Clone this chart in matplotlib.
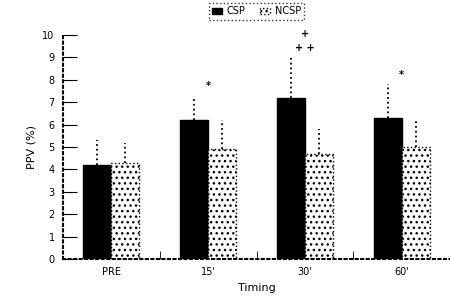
import numpy as np
import matplotlib.pyplot as plt

# values
timing = ["PRE", "15'", "30'", "60'"]
grp_a = [4.2, 6.2, 7.2, 6.3]
grp_a_err = [1.1, 1.1, 1.8, 1.5]
grp_b = [4.3, 4.9, 4.7, 5.0]
grp_b_err = [0.9, 1.3, 1.1, 1.2]
marks_a = ["", "*", "+\n\n+ +", "*"]

fig, ax = plt.subplots(figsize=(4.5, 3.05), dpi=100)
fig.subplots_adjust(left=0.14, right=1.0, bottom=0.151, top=0.885)

x = np.arange(len(timing))
w = 0.29
ax.bar(x - w / 2, grp_a, w, color='black', edgecolor='black', label='CSP')
ax.bar(x + w / 2, grp_b, w, color='white', edgecolor='black', hatch='...', linestyle=':',
       label='NCSP')

# upper-only dotted error bars
for xs, ys, es in [(x - w / 2, grp_a, grp_a_err), (x + w / 2, grp_b, grp_b_err)]:
    eb = ax.errorbar(xs, ys, yerr=[np.zeros(4), es], fmt='none', ecolor='black',
                     elinewidth=1.3, capsize=0)
    eb[2][0].set_linestyle(':')

for i, m in enumerate(marks_a):
    if m:
        ax.text(x[i], grp_a[i] + grp_a_err[i] + 0.2, m, ha='center', va='bottom', fontsize=7,
                fontweight='bold', linespacing=0.6)

ax.set_xlim(-0.5, 3.5)
ax.set_ylim(0, 10)
ax.set_yticks(range(0, 11))
ax.set_xticks(x)
ax.set_xticklabels(timing, fontsize=7)
ax.set_xticks([0.5, 1.5, 2.5], minor=True)
ax.tick_params(axis='x', which='major', length=0, pad=6)
ax.tick_params(axis='x', which='minor', length=6, direction='in')
ax.tick_params(axis='y', direction='in', length=10, labelsize=7, pad=6)
for s in ['top', 'right']:
    ax.spines[s].set_visible(False)
for s in ['left', 'bottom']:
    ax.spines[s].set_linestyle(':')
    ax.spines[s].set_linewidth(1.5)
ax.set_xlabel('Timing', fontsize=8)
ax.set_ylabel('PPV (%)', fontsize=8)

leg = ax.legend(loc='upper center', bbox_to_anchor=(0.5, 1.165), ncol=2, fontsize=7,
                frameon=True, fancybox=False, handlelength=1.0, columnspacing=1.5,
                borderpad=0.35, handletextpad=0.5)
leg.get_frame().set_edgecolor('black')
leg.get_frame().set_linestyle(':')

plt.savefig('out.png')
